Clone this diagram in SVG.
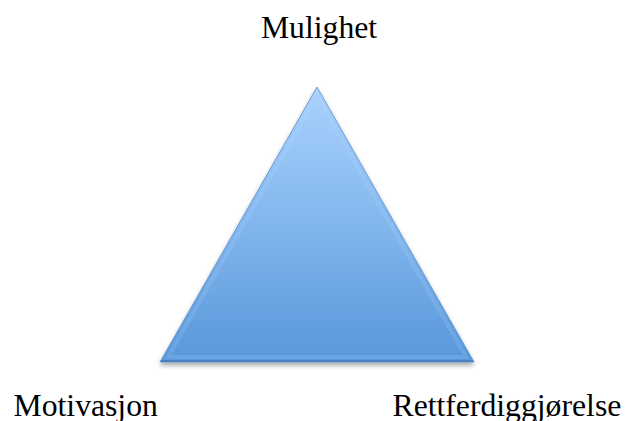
<svg xmlns="http://www.w3.org/2000/svg" width="626" height="421" viewBox="0 0 626 421">
  <style>
    text { font-family: 'Liberation Serif', 'Times New Roman', Times, serif; font-size: 31.7px; fill: #000000; }
  </style>
  <defs>
    <linearGradient id="fillG" x1="0" y1="0" x2="0" y2="1">
      <stop offset="0" stop-color="#a9d2fd"/>
      <stop offset="0.5" stop-color="#82b6ee"/>
      <stop offset="1" stop-color="#5897da"/>
    </linearGradient>
    <filter id="shadow" x="-10%" y="-10%" width="120%" height="130%">
      <feGaussianBlur in="SourceAlpha" stdDeviation="2.5"/>
      <feOffset dx="0" dy="3" result="b"/>
      <feComponentTransfer><feFuncA type="linear" slope="0.35"/></feComponentTransfer>
      <feMerge><feMergeNode/><feMergeNode in="SourceGraphic"/></feMerge>
    </filter>
  </defs>
  <rect width="626" height="421" fill="#fff"/>
  <g id="triangle" filter="url(#shadow)">
    <polygon points="317,87 160,362 474,362" fill="url(#fillG)" stroke="#5a8fcc" stroke-width="0.8"/>
    <polygon points="317,96 168,357 466,357" fill="none" stroke="#b8dafd" stroke-opacity="0.18" stroke-width="4"/>
    <line x1="161" y1="361" x2="473" y2="361" stroke="#4a7fbf" stroke-width="2"/>
  </g>
  <g id="mulighet"><text x="319" y="38" text-anchor="middle" font-family="Liberation Serif, serif">Mulighet</text></g>
  <g id="motivasjon"><text x="13.5" y="416" font-family="Liberation Serif, serif">Motivasjon</text></g>
  <g id="rettferdiggjorelse"><text x="392.5" y="416" font-family="Liberation Serif, serif">Rettferdiggjørelse</text></g>
</svg>
